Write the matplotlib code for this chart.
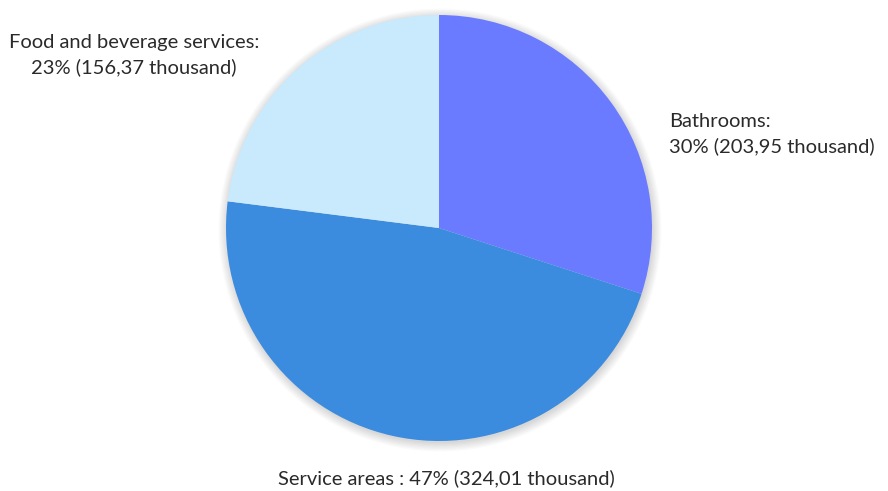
import matplotlib.pyplot as plt
from matplotlib.patches import Circle

categories = ["Bathrooms", "Service areas", "Food and beverage services"]
shares = [30, 47, 23]
thousands = ["203,95", "324,01", "156,37"]
colors = ["#6b7bff", "#3b8bdf", "#c9e9fc"]

plt.rcParams['font.family'] = ['Lato', 'DejaVu Sans']

fig = plt.figure(figsize=(8.88, 4.91), dpi=100)
ax = fig.add_axes([0, 0, 1, 1])

cx, cy, r = 439, 263, 213

# soft shadow
for i in range(8):
    ax.add_patch(Circle((cx + 1, cy - 2), r + i * 1.2, color='black',
                        alpha=0.018, lw=0, zorder=1))

ax.pie(shares, colors=colors, startangle=90, counterclock=False,
       center=(cx, cy), radius=r, frame=True,
       wedgeprops=dict(linewidth=0, zorder=2))
ax.set_xlim(0, 888)
ax.set_ylim(0, 491)
ax.set_aspect('equal')
ax.axis('off')

txt = dict(fontsize=14.5, fontweight='normal', color='#2a2a2a')
ax.text(134, 491 - 55, f"{categories[2]}:\n{shares[2]}% ({thousands[2]} thousand)",
        ha='center', va='center', linespacing=1.45, **txt)
ax.text(669, 491 - 134, f"{categories[0]}:\n{shares[0]}% ({thousands[0]} thousand)",
        ha='left', va='center', linespacing=1.45, **txt)
ax.text(446, 491 - 478, f"{categories[1]} : {shares[1]}% ({thousands[1]} thousand)",
        ha='center', va='center', **txt)

fig.savefig("out.png", dpi=100)
